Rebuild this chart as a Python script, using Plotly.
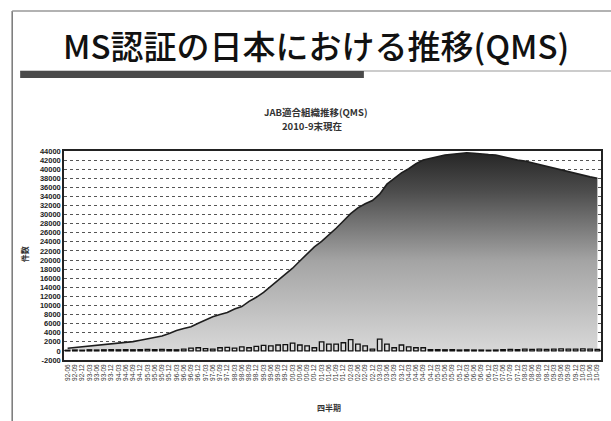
import plotly.graph_objects as go

# ---- data ----
quarters = []
for yr in range(1992, 2011):
    for m in (3, 6, 9, 12):
        if (yr == 1992 and m < 6) or (yr == 2010 and m > 9):
            continue
        quarters.append(f"{yr % 100:02d}-{m:02d}")

cumulative = [600, 750, 900, 1050, 1200, 1350, 1550, 1700, 1830, 2050,
              2350, 2650, 3000, 3300, 3850, 4500, 4950, 5300, 6100, 6800,
              7500, 8000, 8450, 9200, 9750, 10900, 11800, 12900, 14200, 15500,
              16800, 18200, 19800, 21300, 22900, 24100, 25500, 27000, 28600, 30200,
              31500, 32400, 33100, 34500, 36700, 38000, 39200, 40100, 41200, 42000,
              42400, 42800, 43100, 43300, 43500, 43600, 43500, 43300, 43200, 43100,
              42700, 42400, 42000, 41800, 41400, 41000, 40600, 40200, 39800, 39400,
              39000, 38700, 38300, 38000]

new_per_quarter = [150, 200, 150, 250, 200, 250, 300, 250, 300, 250,
                   300, 350, 300, 350, 300, 250, 400, 600, 700, 500,
                   400, 700, 800, 600, 900, 700, 1000, 1200, 1100, 1300,
                   1400, 1700, 1300, 1100, 700, 2000, 1500, 1500, 1800, 2500,
                   1500, 1100, 400, 2600, 1500, 700, 1300, 900, 700, 700,
                   300, 300, 250, 300, 200, 250, 200, 200, 150, 200,
                   300, 350, 300, 400, 350, 400, 350, 400, 450, 400,
                   400, 450, 400, 350]

y_ticks = list(range(-2000, 44001, 2000))
y_tick_text = [str(v) for v in y_ticks]

W, H = 611, 421
L, R, T, B = 64, 8, 151, 61
PW, PH = W - L - R, H - T - B

def px(x):
    return (x - L) / PW

def py(y):
    return (H - B - y) / PH

idx = list(range(len(quarters)))

fig = go.Figure()
fig.add_trace(go.Scatter(
    x=idx, y=cumulative, mode="lines", fill="tozeroy",
    line=dict(color="#1e1e1e", width=1.6),
    fillgradient=dict(type="vertical", start=0, stop=44000,
                      colorscale=[[0, "#d8d8d8"], [0.45, "#a4a4a4"], [0.8, "#4c4c4c"], [1, "#242424"]]),
    showlegend=False, hoverinfo="skip"))
fig.add_trace(go.Bar(
    x=idx, y=new_per_quarter, yaxis="y2", width=0.62,
    marker=dict(color="#dedede", line=dict(color="#111", width=1.3)),
    showlegend=False))

fig.update_layout(
    width=W, height=H, margin=dict(l=L, r=R, t=T, b=B),
    paper_bgcolor="white", plot_bgcolor="white",
    font=dict(family="Noto Sans CJK JP", color="#222"),
    bargap=0.3,
    xaxis=dict(range=[-0.5, len(quarters) - 0.5], tickmode="array", tickvals=idx,
               ticktext=quarters, tickangle=-90,
               tickfont=dict(size=6.5, family="Liberation Sans", color="#333"),
               showgrid=False, zeroline=False, showline=True, linecolor="#222",
               linewidth=1.5, mirror=True, ticks=""),
    yaxis=dict(range=[-2000, 44000], tickmode="array", tickvals=y_ticks,
               ticktext=y_tick_text,
               tickfont=dict(size=7.5, family="Liberation Sans", color="#222", weight="bold"),
               showgrid=True, gridcolor="#555", griddash="3px,3px", gridwidth=1,
               zeroline=False, showline=True, linecolor="#222", linewidth=1.5,
               mirror=True, ticks=""),
    yaxis2=dict(range=[-2000, 44000], overlaying="y", visible=False),
    shapes=[
        dict(type="line", xref="paper", yref="paper", x0=px(12), x1=px(12), y0=py(11), y1=py(425),
             line=dict(color="#777", width=1.5)),
        dict(type="line", xref="paper", yref="paper", x0=px(12), x1=px(615), y0=py(11), y1=py(11),
             line=dict(color="#999", width=1.5)),
        dict(type="line", xref="paper", yref="paper", x0=px(20), x1=px(615), y0=py(71), y1=py(71),
             line=dict(color="#999", width=1)),
        dict(type="rect", xref="paper", yref="paper", x0=px(20), x1=px(365), y0=py(71), y1=py(78),
             fillcolor="#4a4a4a", line=dict(width=0)),
    ],
    annotations=[
        dict(text="MS認証の日本における推移(QMS)", xref="paper", yref="paper",
             x=px(317), y=py(45), showarrow=False, xanchor="center", yanchor="middle",
             font=dict(size=33, color="#111", family="Noto Sans CJK JP", weight=500)),
        dict(text="JAB適合組織推移(QMS)", xref="paper", yref="paper",
             x=px(316), y=py(112), showarrow=False, xanchor="center", yanchor="middle",
             font=dict(size=9.5, color="#333", family="Noto Sans CJK JP", weight="bold")),
        dict(text="2010-9末現在", xref="paper", yref="paper",
             x=px(313), y=py(126), showarrow=False, xanchor="center", yanchor="middle",
             font=dict(size=9.5, color="#333", family="Noto Sans CJK JP", weight="bold")),
        dict(text="件数", xref="paper", yref="paper", textangle=-90,
             x=px(24), y=py(254), showarrow=False, xanchor="center", yanchor="middle",
             font=dict(size=8, color="#333", family="Noto Sans CJK JP", weight="bold")),
        dict(text="四半期", xref="paper", yref="paper",
             x=px(330), y=py(407), showarrow=False, xanchor="center", yanchor="middle",
             font=dict(size=8, color="#333", family="Noto Sans CJK JP", weight="bold")),
    ],
)

fig.write_html("out.html")
